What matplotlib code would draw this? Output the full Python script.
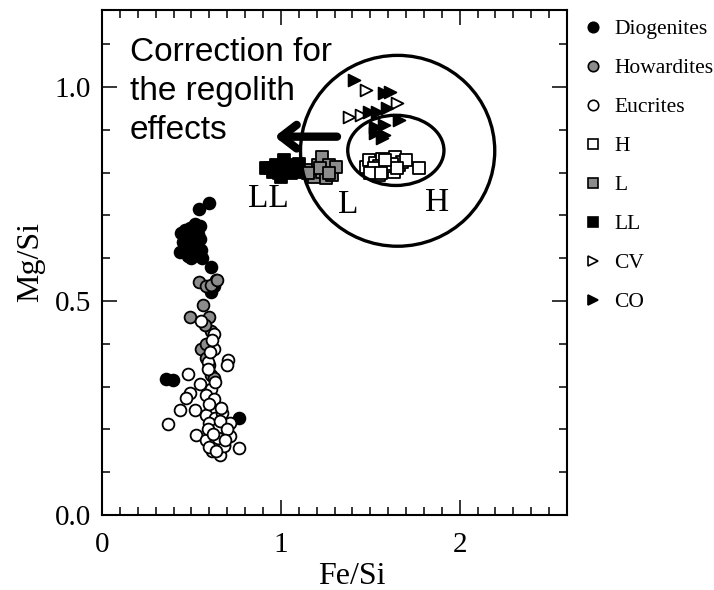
import numpy as np
import matplotlib
matplotlib.use('Agg')
import matplotlib.pyplot as plt
from matplotlib.patches import Ellipse
from matplotlib.lines import Line2D
from matplotlib.ticker import MultipleLocator

# achondrites (HED)
dio_fe = [0.598, 0.542, 0.462, 0.518, 0.546, 0.490, 0.536, 0.455, 0.508, 0.546, 0.434, 0.481,
          0.527, 0.555, 0.500, 0.470, 0.520, 0.490, 0.440, 0.560, 0.500, 0.611, 0.638, 0.611,
          0.625, 0.360, 0.397, 0.765]
dio_mg = [0.728, 0.714, 0.666, 0.681, 0.676, 0.654, 0.657, 0.639, 0.637, 0.645, 0.615, 0.605,
          0.615, 0.620, 0.627, 0.627, 0.660, 0.670, 0.660, 0.600, 0.600, 0.579, 0.549, 0.522,
          0.535, 0.317, 0.315, 0.226]

how_fe = [0.542, 0.579, 0.611, 0.641, 0.564, 0.490, 0.601, 0.555, 0.579, 0.611, 0.629, 0.579,
          0.610, 0.575, 0.600]
how_mg = [0.545, 0.535, 0.538, 0.549, 0.491, 0.462, 0.463, 0.389, 0.400, 0.327, 0.320, 0.367,
          0.430, 0.445, 0.350]

euc_fe = [0.555, 0.624, 0.624, 0.592, 0.703, 0.698, 0.481, 0.546, 0.611, 0.490, 0.468, 0.579,
          0.625, 0.434, 0.518, 0.614, 0.369, 0.579, 0.634, 0.672, 0.527, 0.601, 0.648, 0.713,
          0.579, 0.634, 0.681, 0.718, 0.614, 0.661, 0.681, 0.768, 0.648, 0.590, 0.620, 0.660,
          0.700, 0.600, 0.640, 0.690, 0.630, 0.600, 0.665, 0.590, 0.605, 0.615]
euc_mg = [0.454, 0.423, 0.389, 0.358, 0.362, 0.350, 0.329, 0.306, 0.294, 0.286, 0.273, 0.280,
          0.270, 0.245, 0.245, 0.243, 0.212, 0.233, 0.227, 0.239, 0.187, 0.215, 0.203, 0.215,
          0.176, 0.168, 0.164, 0.184, 0.149, 0.141, 0.161, 0.156, 0.180, 0.200, 0.190, 0.220,
          0.200, 0.160, 0.150, 0.175, 0.310, 0.260, 0.250, 0.340, 0.380, 0.410]

# ordinary chondrites
h_fe = [1.474, 1.492, 1.511, 1.529, 1.548, 1.566, 1.585, 1.604, 1.631, 1.641, 1.659, 1.678,
        1.697, 1.771, 1.550, 1.600, 1.520, 1.620, 1.650, 1.580, 1.500, 1.560]
h_mg = [0.814, 0.829, 0.802, 0.822, 0.794, 0.833, 0.806, 0.826, 0.802, 0.837, 0.818, 0.826,
        0.829, 0.810, 0.815, 0.815, 0.810, 0.820, 0.810, 0.830, 0.800, 0.800]

l_fe = [1.167, 1.186, 1.205, 1.232, 1.232, 1.251, 1.269, 1.288, 1.307, 1.220, 1.150, 1.270]
l_mg = [0.806, 0.790, 0.818, 0.837, 0.802, 0.787, 0.818, 0.794, 0.814, 0.810, 0.800, 0.800]

ll_fe = [0.917, 0.954, 0.975, 1.010, 1.037, 1.056, 1.084, 1.121, 1.020, 1.000, 0.940, 1.100,
         1.060, 0.990]
ll_mg = [0.810, 0.802, 0.818, 0.810, 0.818, 0.798, 0.810, 0.802, 0.829, 0.790, 0.810, 0.820,
         0.810, 0.800]

# carbonaceous chondrites
cv_fe = [1.474, 1.650, 1.381, 1.446]
cv_mg = [0.993, 0.962, 0.931, 0.935]

co_fe = [1.409, 1.576, 1.609, 1.492, 1.539, 1.594, 1.529, 1.576, 1.529, 1.576, 1.566, 1.659]
co_mg = [1.016, 0.985, 0.989, 0.942, 0.942, 0.950, 0.907, 0.911, 0.892, 0.888, 0.880, 0.923]

serif = 'Liberation Serif'
sans = 'Liberation Sans'
grey = '#8c8c8c'

fig = plt.figure(figsize=(7.14, 5.90), dpi=100)
ax = fig.add_axes([102/714, 1 - 515/590, 465/714, 505/590])

ms = 72
ew = 1.3
ax.scatter(dio_fe, dio_mg, s=ms, marker='o', facecolor='k', edgecolor='k', lw=ew, zorder=3)
ax.scatter(how_fe, how_mg, s=ms, marker='o', facecolor=grey, edgecolor='k', lw=ew, zorder=4)
ax.scatter(euc_fe, euc_mg, s=ms, marker='o', facecolor='w', edgecolor='k', lw=ew, zorder=5)
ax.scatter(ll_fe, ll_mg, s=ms, marker='s', facecolor='k', edgecolor='k', lw=ew, zorder=3)
ax.scatter(l_fe, l_mg, s=ms, marker='s', facecolor=grey, edgecolor='k', lw=ew, zorder=4)
ax.scatter(h_fe, h_mg, s=ms, marker='s', facecolor='w', edgecolor='k', lw=ew, zorder=4)
ax.scatter(cv_fe, cv_mg, s=ms, marker='>', facecolor='w', edgecolor='k', lw=ew, zorder=4)
ax.scatter(co_fe, co_mg, s=ms, marker='>', facecolor='k', edgecolor='k', lw=ew, zorder=4)

ax.add_patch(Ellipse((1.653, 0.851), 1.086, 0.446, fill=False, lw=2.4, ec='k', zorder=6))
ax.add_patch(Ellipse((1.643, 0.852), 0.538, 0.164, fill=False, lw=2.4, ec='k', zorder=6))

ax.annotate('', xy=(0.965, 0.884), xytext=(1.314, 0.884),
            arrowprops=dict(arrowstyle='->,head_length=1.1,head_width=0.85', lw=6, color='k',
                            shrinkA=0, shrinkB=0, mutation_scale=10), zorder=7)

ax.text(0.155, 1.118, 'Correction for\nthe regolith\neffects', family=sans, fontsize=24,
        ha='left', va='top', linespacing=1.34)
ax.text(0.93, 0.738, 'LL', family=serif, fontsize=24, ha='center', va='center')
ax.text(1.374, 0.724, 'L', family=serif, fontsize=24, ha='center', va='center')
ax.text(1.875, 0.729, 'H', family=serif, fontsize=24, ha='center', va='center')

ax.set_xlim(0, 2.6)
ax.set_ylim(0, 1.18)
ax.xaxis.set_major_locator(MultipleLocator(1))
ax.xaxis.set_minor_locator(MultipleLocator(0.1))
ax.yaxis.set_major_locator(MultipleLocator(0.5))
ax.yaxis.set_minor_locator(MultipleLocator(0.1))
ax.xaxis.set_major_formatter(plt.FuncFormatter(lambda v, p: '%d' % round(v)))
ax.tick_params(which='both', direction='in', top=True, right=True, width=1.1)
ax.tick_params(which='major', length=11)
ax.tick_params(which='minor', length=5.5)
ax.tick_params(axis='x', pad=12)
ax.tick_params(axis='y', pad=8)
for lab in ax.get_xticklabels() + ax.get_yticklabels():
    lab.set_family(serif)
    lab.set_fontsize(21)
for sp in ax.spines.values():
    sp.set_linewidth(1.5)

ax.set_xlabel('Fe/Si', family=serif, fontsize=23)
ax.set_ylabel('Mg/Si', family=serif, fontsize=23)
ax.xaxis.set_label_coords(0.538, -0.093)
ax.yaxis.set_label_coords(-0.123, 0.5)

handles = [
    Line2D([], [], ls='', marker='o', mfc='k', mec='k', label='Diogenites'),
    Line2D([], [], ls='', marker='o', mfc=grey, mec='k', label='Howardites'),
    Line2D([], [], ls='', marker='o', mfc='w', mec='k', label='Eucrites'),
    Line2D([], [], ls='', marker='s', mfc='w', mec='k', label='H'),
    Line2D([], [], ls='', marker='s', mfc=grey, mec='k', label='L'),
    Line2D([], [], ls='', marker='s', mfc='k', mec='k', label='LL'),
    Line2D([], [], ls='', marker='>', mfc='w', mec='k', label='CV'),
    Line2D([], [], ls='', marker='>', mfc='k', mec='k', label='CO'),
]
for hd in handles:
    hd.set_markersize(7.5)
    hd.set_markeredgewidth(1.2)
fig.legend(handles=handles, loc='upper left', bbox_to_anchor=(584/714, 1 - 19/590),
           frameon=False, prop={'family': serif, 'size': 15.5}, labelspacing=0.88,
           handlelength=0.8, handletextpad=0.6, borderaxespad=0, borderpad=0)

fig.savefig('out.png', dpi=100)
